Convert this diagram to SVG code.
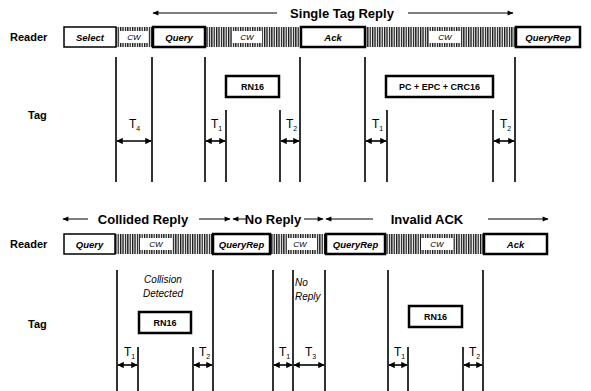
<svg xmlns="http://www.w3.org/2000/svg" width="591" height="391" viewBox="0 0 591 391">
<style>
text{font-family:"Liberation Sans",Arial,sans-serif;fill:#000}
.hdr{font-size:13px;font-weight:bold}
.lbl{font-size:11px;font-weight:bold}
.cmd{font-size:9.5px;font-weight:bold;font-style:italic}
.cw{font-size:8px;font-style:italic}
.tag{font-size:9px;font-weight:bold}
.t{font-size:12px}
.sub{font-size:7px}
.note{font-size:10px;font-style:italic}
.box{fill:#fff;stroke:#000;stroke-width:2.5}
.thin{fill:#fff;stroke:#000;stroke-width:1.5}
.vl{stroke:#000;stroke-width:1.6;fill:none}
.ta{stroke:#000;stroke-width:1.6;fill:none;marker-start:url(#ah);marker-end:url(#ah)}
.la{stroke:#000;stroke-width:1;fill:none}
.le{marker-end:url(#ah2)}
.ls{marker-start:url(#ah2)}
</style>
<defs>
<pattern id="hatch" patternUnits="userSpaceOnUse" width="2.4" height="4"><rect width="1.3" height="4" fill="#111"/></pattern>
<marker id="ah" viewBox="0 0 10 10" refX="9" refY="5" markerWidth="4" markerHeight="4" orient="auto-start-reverse"><path d="M0,0 L10,5 L0,10 z" fill="#000"/></marker>
<marker id="ah2" viewBox="0 0 10 10" refX="9" refY="5" markerWidth="7" markerHeight="6" orient="auto-start-reverse"><path d="M0,1 L10,5 L0,9 z" fill="#000"/></marker>
</defs>
<rect width="591" height="391" fill="#fff"/>

<g id="hdr-single"><text class="hdr" x="342" y="18" text-anchor="middle">Single Tag Reply</text></g>
<g id="hdr-collided"><text class="hdr" x="143" y="224" text-anchor="middle">Collided Reply</text></g>
<g id="hdr-noreply"><text class="hdr" x="273" y="224" text-anchor="middle">No Reply</text></g>
<g id="hdr-invalid"><text class="hdr" x="427" y="224" text-anchor="middle">Invalid ACK</text></g>

<g id="row-labels">
<text class="lbl" x="10" y="41">Reader</text>
<text class="lbl" x="28" y="119">Tag</text>
<text class="lbl" x="10" y="248">Reader</text>
<text class="lbl" x="28" y="328">Tag</text>
</g>

<g id="cw-top-1"><rect x="116" y="27" width="36" height="20" fill="url(#hatch)"/><rect x="120" y="31" width="28" height="12" fill="#fff"/><text class="cw" x="134" y="40" text-anchor="middle">CW</text></g>
<g id="cw-top-2"><rect x="205" y="27" width="95" height="20" fill="url(#hatch)"/><rect x="232" y="31" width="30" height="12" fill="#fff"/><text class="cw" x="247" y="40" text-anchor="middle">CW</text></g>
<g id="cw-top-3"><rect x="365" y="27" width="150" height="20" fill="url(#hatch)"/><rect x="429" y="31" width="32" height="12" fill="#fff"/><text class="cw" x="445" y="40" text-anchor="middle">CW</text></g>

<g id="select"><rect class="thin" x="64" y="27" width="52" height="20"/><text class="cmd" x="90" y="40.5" text-anchor="middle">Select</text></g>
<g id="query-top"><rect class="box" x="153" y="27" width="52" height="20"/><text class="cmd" x="179" y="40.5" text-anchor="middle">Query</text></g>
<g id="ack-top"><rect class="box" x="301" y="27" width="64" height="20"/><text class="cmd" x="333" y="40.5" text-anchor="middle">Ack</text></g>
<g id="queryrep-top"><rect class="box" x="516" y="27" width="64" height="20"/><text class="cmd" x="548" y="40.5" text-anchor="middle">QueryRep</text></g>

<g id="rn16-top"><rect class="box" x="226" y="76" width="53" height="21"/><text class="tag" x="252.5" y="90" text-anchor="middle">RN16</text></g>
<g id="pc-epc"><rect class="box" x="386" y="76" width="107" height="21"/><text class="tag" x="439.5" y="90" text-anchor="middle">PC + EPC + CRC16</text></g>

<g id="cw-bot-1"><rect x="115" y="234" width="98" height="20" fill="url(#hatch)"/><rect x="140" y="238" width="32" height="12" fill="#fff"/><text class="cw" x="156" y="247" text-anchor="middle">CW</text></g>
<g id="cw-bot-2"><rect x="270" y="234" width="55" height="20" fill="url(#hatch)"/><rect x="287" y="238" width="30" height="12" fill="#fff"/><text class="cw" x="300" y="247" text-anchor="middle">CW</text></g>
<g id="cw-bot-3"><rect x="385" y="234" width="98" height="20" fill="url(#hatch)"/><rect x="421" y="238" width="32" height="12" fill="#fff"/><text class="cw" x="437" y="247" text-anchor="middle">CW</text></g>

<g id="query-bot"><rect class="thin" x="64" y="234" width="51" height="20"/><text class="cmd" x="89.5" y="247.5" text-anchor="middle">Query</text></g>
<g id="queryrep-bot-1"><rect class="box" x="213" y="234" width="57" height="20"/><text class="cmd" x="241.5" y="247.5" text-anchor="middle">QueryRep</text></g>
<g id="queryrep-bot-2"><rect class="box" x="326" y="234" width="59" height="20"/><text class="cmd" x="355.5" y="247.5" text-anchor="middle">QueryRep</text></g>
<g id="ack-bot"><rect class="box" x="484" y="234" width="63" height="20"/><text class="cmd" x="515.5" y="247.5" text-anchor="middle">Ack</text></g>

<g id="rn16-bot-1"><rect class="box" x="139" y="312" width="52" height="21"/><text class="tag" x="165" y="326" text-anchor="middle">RN16</text></g>
<g id="rn16-bot-2"><rect class="box" x="409" y="306" width="53" height="21"/><text class="tag" x="435.5" y="320" text-anchor="middle">RN16</text></g>

<g id="notes">
<text class="note" x="163" y="283" text-anchor="middle">Collision</text>
<text class="note" x="163" y="297" text-anchor="middle">Detected</text>
<text class="note" x="295" y="286">No</text>
<text class="note" x="295" y="300">Reply</text>
</g>

<g id="t-labels">
<text class="t" x="129" y="128">T<tspan class="sub" dy="3">4</tspan></text>
<text class="t" x="211" y="128">T<tspan class="sub" dy="3">1</tspan></text>
<text class="t" x="286" y="128">T<tspan class="sub" dy="3">2</tspan></text>
<text class="t" x="372" y="128">T<tspan class="sub" dy="3">1</tspan></text>
<text class="t" x="500" y="128">T<tspan class="sub" dy="3">2</tspan></text>
<text class="t" x="124" y="356">T<tspan class="sub" dy="3">1</tspan></text>
<text class="t" x="199" y="356">T<tspan class="sub" dy="3">2</tspan></text>
<text class="t" x="279" y="356">T<tspan class="sub" dy="3">1</tspan></text>
<text class="t" x="305" y="356">T<tspan class="sub" dy="3">3</tspan></text>
<text class="t" x="394" y="356">T<tspan class="sub" dy="3">1</tspan></text>
<text class="t" x="469" y="356">T<tspan class="sub" dy="3">2</tspan></text>
</g>

<g id="connectors">
<path class="la ls" d="M153,13 H277"/>
<path class="la le" d="M408,13 H513"/>
<path class="la ls" d="M63,219 H88"/>
<path class="la le" d="M199,219 H230"/>
<path class="la ls" d="M233,219 H247"/>
<path class="la le" d="M304,219 H323"/>
<path class="la ls" d="M326,219 H373"/>
<path class="la le" d="M488,219 H548"/>
<path class="vl" d="M116,57 V182 M152,57 V182 M205,57 V182 M226,110 V182 M280,110 V182 M300,57 V182 M365,57 V182 M387,110 V182 M493,110 V182 M515,57 V182"/>
<path class="vl" d="M117,270 V391 M138,347 V391 M193,347 V391 M213,270 V391 M273,270 V391 M293,270 V391 M325,270 V391 M388,270 V391 M408,347 V391 M463,347 V391 M483,270 V391"/>
<path class="ta" d="M117,141 H151"/>
<path class="ta" d="M206,141 H225"/>
<path class="ta" d="M281,141 H299"/>
<path class="ta" d="M366,141 H386"/>
<path class="ta" d="M494,141 H514"/>
<path class="ta" d="M118,365 H137"/>
<path class="ta" d="M194,365 H212"/>
<path class="ta" d="M274,365 H292"/>
<path class="ta" d="M294,365 H324"/>
<path class="ta" d="M389,365 H407"/>
<path class="ta" d="M464,365 H482"/>
</g>
</svg>
